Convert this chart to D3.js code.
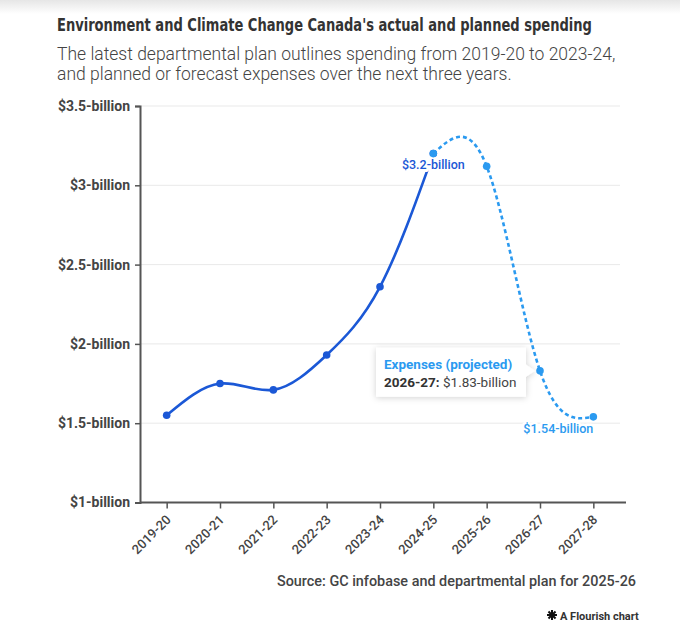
<!DOCTYPE html>
<html lang="en">
<head>
    <meta charset="UTF-8">
    <title>ECCC spending</title>
    <script src="https://d3js.org/d3.v7.min.js"></script>
    <style>
        body{ margin:0; background:#fff; }
        svg{ display:block; }
        .title{ font-family:"DejaVu Sans Condensed","Liberation Sans Narrow",sans-serif; font-weight:bold; font-size:17px; fill:#333; }
        .subtitle{ font-family:Roboto,"Liberation Sans",sans-serif; font-weight:300; font-size:17.5px; fill:#444; }
        .ylab{ font-family:Roboto,sans-serif; font-weight:bold; font-size:14px; fill:#444; }
        .xlab{ font-family:Roboto,sans-serif; font-weight:500; font-size:13px; fill:#444; }
        .vlab{ font-family:Roboto,sans-serif; font-weight:500; font-size:12.5px; }
    </style>
</head>
<body>
<script>
    // data (billions of dollars)
    const years = ["2019-20","2020-21","2021-22","2022-23","2023-24","2024-25","2025-26","2026-27","2027-28"]
    const actualYears = ["2019-20","2020-21","2021-22","2022-23","2023-24","2024-25"]
    const actualSpending = [1.55, 1.75, 1.71, 1.93, 2.36, 3.2]
    const projectedYears = ["2024-25","2025-26","2026-27","2027-28"]
    const projectedSpending = [3.2, 3.12, 1.83, 1.54]
    const yTicks = [1, 1.5, 2, 2.5, 3, 3.5]

    const darkBlue = "#1b58d6"
    const lightBlue = "#2b9af0"

    const svgSize = {width:680, height:625}
    const plot = {left:140, right:620, top:106, bottom:502.5}

    const svg = d3.select("body").append("svg")
        .attr("width", svgSize.width).attr("height", svgSize.height)

    // faint shadow band at the top
    const defs = svg.append("defs")
    const grad = defs.append("linearGradient").attr("id","topfade").attr("x1",0).attr("x2",0).attr("y1",0).attr("y2",1)
    grad.append("stop").attr("offset",0).attr("stop-color","#e6e6e6")
    grad.append("stop").attr("offset",1).attr("stop-color","#fff")
    svg.append("rect").attr("x",0).attr("y",0).attr("width",svgSize.width).attr("height",14).attr("fill","url(#topfade)")

    const shadow = defs.append("filter").attr("id","shadow").attr("x","-20%").attr("y","-30%").attr("width","140%").attr("height","160%")
    shadow.append("feDropShadow").attr("dx",0).attr("dy",1).attr("stdDeviation",3).attr("flood-color","#000").attr("flood-opacity",0.18)

    // title: squeeze the bold face horizontally so it reads like a condensed font
    const title = svg.append("text").attr("class","title").attr("x",0).attr("y",0)
        .text("Environment and Climate Change Canada's actual and planned spending")
    const titleLen = title.node().getComputedTextLength()
    title.attr("transform", `translate(57,31) scale(${535 / titleLen},1)`)

    svg.append("text").attr("class","subtitle").attr("x",57).attr("y",60)
        .text("The latest departmental plan outlines spending from 2019-20 to 2023-24,")
    svg.append("text").attr("class","subtitle").attr("x",57).attr("y",80)
        .text("and planned or forecast expenses over the next three years.")

    const xScale = d3.scalePoint().domain(years).range([plot.left, plot.right]).padding(0.5)
    const yScale = d3.scaleLinear().domain([1, 3.5]).range([plot.bottom, plot.top])

    // gridlines
    svg.append("g").selectAll("line").data(yTicks.slice(1)).join("line")
        .attr("x1", plot.left).attr("x2", plot.right)
        .attr("y1", d=> yScale(d)).attr("y2", d=> yScale(d))
        .attr("stroke","#e9e9e9").attr("stroke-width",1)

    // y axis
    const yAxis = svg.append("g").attr("transform",`translate(${plot.left},0)`)
        .call(d3.axisLeft(yScale).tickValues(yTicks).tickSize(5).tickPadding(5).tickFormat(d=> "$" + d + "-billion"))
    yAxis.select(".domain").attr("stroke","#555").attr("stroke-width",2)
    yAxis.selectAll(".tick line").attr("stroke","#555").attr("stroke-width",1.5)
    yAxis.selectAll("text").attr("class","ylab").attr("font-family",null).attr("font-size",null).attr("fill",null)

    // x axis
    const xAxis = svg.append("g").attr("transform",`translate(0,${plot.bottom})`)
        .call(d3.axisBottom(xScale).tickSize(6).tickSizeOuter(0))
    xAxis.select(".domain").attr("stroke","#555").attr("stroke-width",2).attr("d",`M${plot.left},0H${plot.right + 6}`)
    xAxis.selectAll(".tick line").attr("stroke","#555").attr("stroke-width",1.5)
    xAxis.selectAll("text").attr("class","xlab").attr("font-family",null).attr("font-size",null).attr("fill",null)
        .attr("text-anchor","end").attr("dy",null).attr("y",0)
        .attr("transform","translate(4.5,18) rotate(-45)")

    const line = d3.line().x(d=> xScale(d[0])).y(d=> yScale(d[1])).curve(d3.curveNatural)
    const actualPts = actualYears.map((y,i)=> [y, actualSpending[i]])
    const projPts = projectedYears.map((y,i)=> [y, projectedSpending[i]])

    svg.append("path").attr("d", line(actualPts))
        .attr("fill","none").attr("stroke",darkBlue).attr("stroke-width",2.6)

    svg.append("g").selectAll("circle").data(actualPts).join("circle")
        .attr("cx", d=> xScale(d[0])).attr("cy", d=> yScale(d[1])).attr("r",3.8).attr("fill",darkBlue)

    // end label of actual series, with white halo
    const lastA = actualPts[actualPts.length-1]
    svg.append("text").attr("class","vlab")
        .attr("x", xScale(lastA[0])).attr("y", yScale(lastA[1]) + 15).attr("text-anchor","middle")
        .attr("fill",darkBlue).attr("stroke","#fff").attr("stroke-width",6).attr("stroke-linejoin","round")
        .attr("paint-order","stroke")
        .text("$" + lastA[1] + "-billion")

    svg.append("path").attr("d", line(projPts))
        .attr("fill","none").attr("stroke",lightBlue).attr("stroke-width",2.6).attr("stroke-dasharray","4,3")

    svg.append("g").selectAll("circle").data(projPts).join("circle")
        .attr("cx", d=> xScale(d[0])).attr("cy", d=> yScale(d[1])).attr("r",3.8).attr("fill",lightBlue)

    const lastP = projPts[projPts.length-1]
    svg.append("text").attr("class","vlab")
        .attr("x", xScale(lastP[0])).attr("y", yScale(lastP[1]) + 16).attr("text-anchor","end")
        .attr("fill",lightBlue).attr("stroke","#fff").attr("stroke-width",5).attr("stroke-linejoin","round")
        .attr("paint-order","stroke")
        .text("$" + lastP[1] + "-billion")

    // tooltip on 2026-27
    const tip = projPts[2]
    const tx = xScale(tip[0]), ty = yScale(tip[1])
    const box = {w:150, h:49}
    const bx = tx - 14 - box.w, by = ty - 23
    const tg = svg.append("g")
    tg.append("path")
        .attr("d", `M${bx},${by}h${box.w}v${ty-6-by}l9,6l-9,6V${by+box.h}H${bx}Z`)
        .attr("fill","#fff").attr("filter","url(#shadow)")
    tg.append("text").attr("x", bx+8).attr("y", by+21)
        .attr("font-family","Roboto,sans-serif").attr("font-weight","bold").attr("font-size",13.5)
        .attr("fill",lightBlue).text("Expenses (projected)")
    const t2 = tg.append("text").attr("x", bx+8).attr("y", by+39)
        .attr("font-family","Roboto,sans-serif").attr("font-size",13.5).attr("fill","#444")
    t2.append("tspan").attr("font-weight","bold").attr("fill","#333").text(tip[0] + ": ")
    t2.append("tspan").text("$" + tip[1] + "-billion")

    // source and credit
    svg.append("text").attr("x",636).attr("y",586).attr("text-anchor","end")
        .attr("font-family","Roboto,sans-serif").attr("font-weight",500).attr("font-size",14.4).attr("fill","#444")
        .text("Source: GC infobase and departmental plan for 2025-26")

    const logo = svg.append("g").attr("transform","translate(552,615)")
    d3.range(8).forEach(i=> {
        const a = i * Math.PI / 4
        logo.append("line").attr("x1",0).attr("y1",0)
            .attr("x2", 5*Math.cos(a)).attr("y2", 5*Math.sin(a))
            .attr("stroke","#111").attr("stroke-width",2)
    })
    svg.append("text").attr("x",560).attr("y",619.5)
        .attr("font-family","Roboto,sans-serif").attr("font-weight","bold").attr("font-size",11).attr("fill","#333")
        .text("A Flourish chart")
</script>
</body>
</html>
